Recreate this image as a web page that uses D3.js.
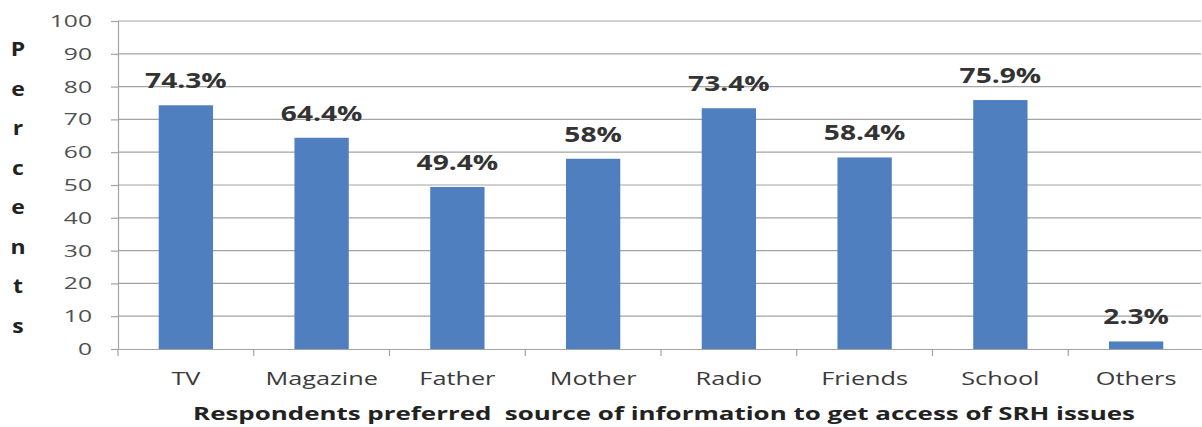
<!DOCTYPE html>
<html>
<head>
<meta charset="utf-8">
<script src="https://cdn.jsdelivr.net/npm/d3@7"></script>
<style>
  html, body { margin: 0; padding: 0; background: #fff; }
  svg { display: block; }
  text { font-family: "Open Sans", "Liberation Sans", sans-serif; }
</style>
</head>
<body>
<svg id="chart" width="1202" height="427"></svg>
<script>
// Preferred sources of SRH information (% of respondents)
const categories = ["TV", "Magazine", "Father", "Mother", "Radio", "Friends", "School", "Others"];
const values = [74.3, 64.4, 49.4, 58, 73.4, 58.4, 75.9, 2.3];
const valueLabels = ["74.3%", "64.4%", "49.4%", "58%", "73.4%", "58.4%", "75.9%", "2.3%"];
const yTicks = [0, 10, 20, 30, 40, 50, 60, 70, 80, 90, 100];
const yTitle = "Percents";
const xTitle = "Respondents preferred  source of information to get access of SRH issues";

const svg = d3.select("#chart");
const plotLeft = 118, plotRight = 1204, plotTop = 21, plotBottom = 349;
const gridColor = "#a3a3a3";

const x = d3.scaleBand().domain(categories).range([plotLeft, plotRight])
  .paddingInner(0.6).paddingOuter(0.3);
const y = d3.scaleLinear().domain([0, 100]).range([plotBottom, plotTop]);

// wide lettering: glyphs are stretched horizontally about their anchor
const stretch = (sel, sx, px, py) =>
  sel.attr("x", null).attr("y", null)
     .attr("transform", `translate(${px},${py}) scale(${sx},1)`);

// horizontal gridlines
svg.append("g").selectAll("line").data(yTicks.filter(d => d > 0)).join("line")
  .attr("x1", plotLeft).attr("x2", 1201)
  .attr("y1", d => y(d)).attr("y2", d => y(d))
  .attr("stroke", gridColor).attr("stroke-width", 1.2);

// y axis
const yAxis = svg.append("g").attr("transform", `translate(${plotLeft},0)`)
  .call(d3.axisLeft(y).tickValues(yTicks).tickSize(7));
yAxis.select(".domain").attr("stroke", gridColor).attr("stroke-width", 1.2);
yAxis.selectAll(".tick line").attr("stroke", gridColor).attr("stroke-width", 1.2);
yAxis.selectAll(".tick text")
  .attr("font-size", 17).attr("fill", "#505050")
  .attr("font-family", "'Open Sans', sans-serif")
  .call(stretch, 1.45, -26, 0);

// x axis
const xAxis = svg.append("g").attr("transform", `translate(0,${plotBottom})`)
  .call(d3.axisBottom(x).tickSize(0));
xAxis.select(".domain").attr("stroke", gridColor).attr("stroke-width", 1.2);
xAxis.selectAll(".tick text")
  .attr("font-size", 19).attr("fill", "#3a3a3a")
  .attr("font-family", "'Open Sans', sans-serif")
  .attr("dy", null)
  .call(stretch, 1.33, 0, 36);

// category boundary ticks
const step = x.step();
const bounds = d3.range(categories.length + 1)
  .map(i => x(categories[0]) - x.paddingOuter() * step + i * step);
svg.append("g").selectAll("line").data(bounds).join("line")
  .attr("x1", d => d).attr("x2", d => d)
  .attr("y1", plotBottom).attr("y2", plotBottom + 7)
  .attr("stroke", gridColor).attr("stroke-width", 1.2);

// bars
svg.append("g").selectAll("rect").data(values).join("rect")
  .attr("x", (d, i) => x(categories[i]))
  .attr("width", x.bandwidth())
  .attr("y", d => y(d))
  .attr("height", d => y(0) - y(d))
  .attr("fill", "#4F7FBE");

// value labels
svg.append("g").selectAll("text").data(values).join("text")
  .attr("text-anchor", "middle")
  .attr("font-size", 22).attr("font-weight", "bold").attr("fill", "#333")
  .attr("transform", (d, i) =>
    `translate(${x(categories[i]) + x.bandwidth() / 2},${y(d) - 17}) scale(1.28,1)`)
  .text((d, i) => valueLabels[i]);

// stacked y title
svg.append("g").selectAll("text").data(yTitle.split("")).join("text")
  .attr("text-anchor", "middle")
  .attr("font-size", 20).attr("font-weight", "bold").attr("fill", "#222")
  .attr("transform", (d, i) => `translate(18,${56 + i * 39.5}) scale(1.15,1)`)
  .text(d => d);

// x title
svg.append("text")
  .attr("text-anchor", "middle")
  .attr("font-size", 18).attr("font-weight", "bold").attr("fill", "#222")
  .style("white-space", "pre")
  .attr("transform", "translate(664,420) scale(1.44,1)")
  .text(xTitle);
</script>
</body>
</html>
